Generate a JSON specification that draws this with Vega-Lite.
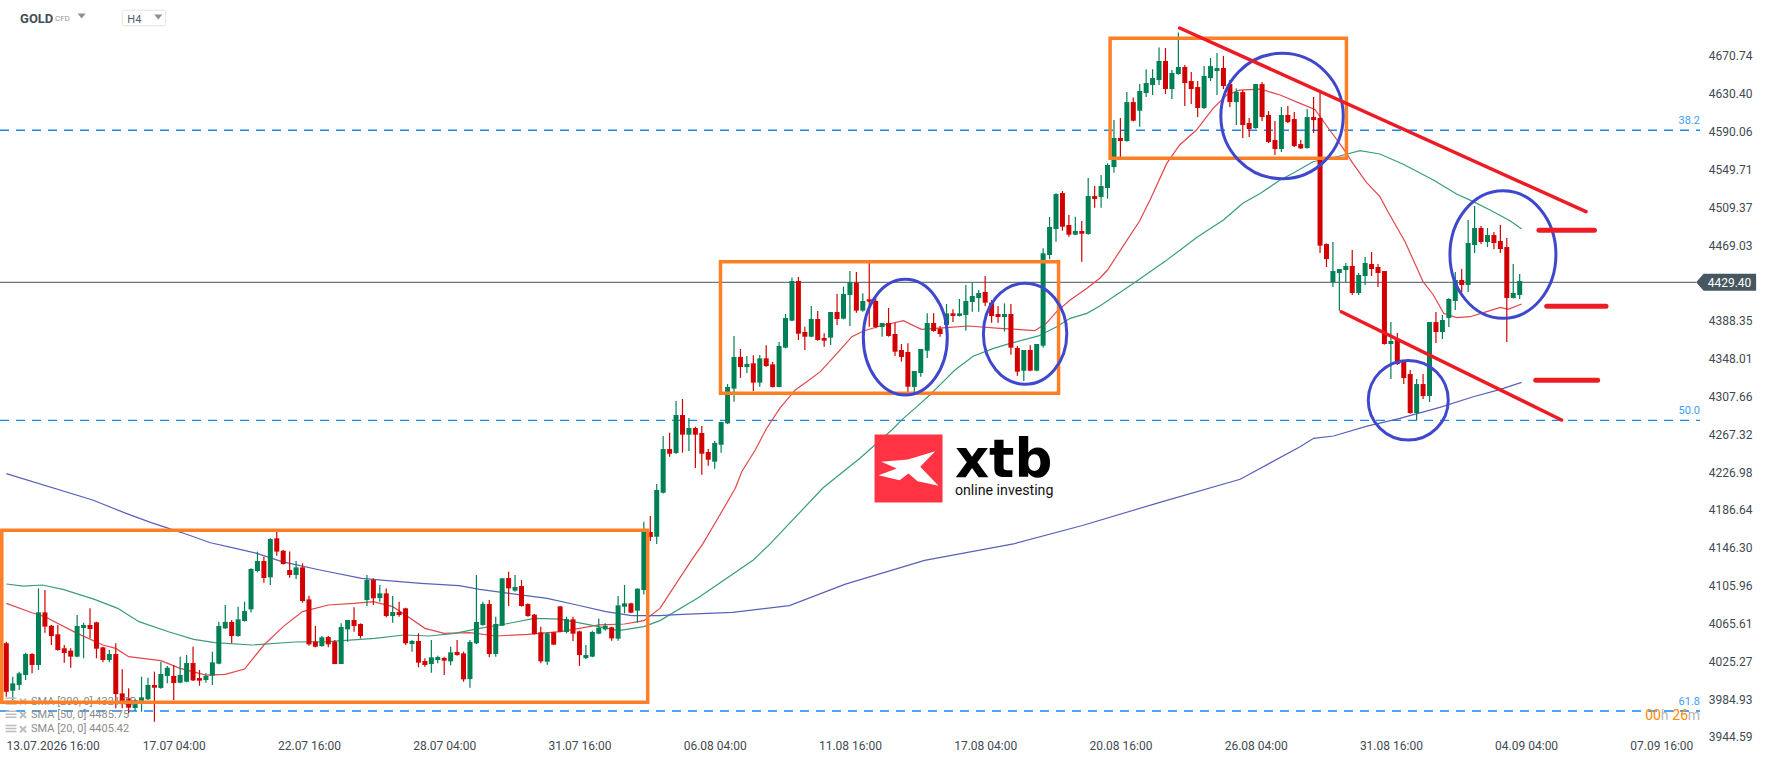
{
  "$schema": "https://vega.github.io/schema/vega-lite/v6.json",
  "description": "GOLD CFD H4 candlesticks with SMA 20/50/200, Fibonacci levels and hand drawn annotations.",
  "width": 1768,
  "height": 761,
  "padding": 0,
  "autosize": {"type": "none"},
  "background": "#ffffff",
  "config": {"view": {"stroke": null}, "text": {"font": "Roboto"}, "axis": {"grid": false, "domain": false, "ticks": false, "tickSize": 0}},
  "datasets": {
    "candles": [
      {"t":0,"o":4044.4,"h":4046.2,"l":3987.5,"c":3992.8},
      {"t":1,"o":3993.9,"h":4008.8,"l":3984.0,"c":4001.7},
      {"t":2,"o":4000.0,"h":4014.2,"l":3994.6,"c":4012.4},
      {"t":3,"o":4010.6,"h":4034.4,"l":4005.3,"c":4033.0},
      {"t":4,"o":4033.0,"h":4033.7,"l":4012.4,"c":4021.3},
      {"t":5,"o":4021.3,"h":4103.0,"l":4016.0,"c":4077.4},
      {"t":6,"o":4077.4,"h":4101.3,"l":4055.8,"c":4062.2},
      {"t":7,"o":4063.2,"h":4064.0,"l":4042.6,"c":4052.2},
      {"t":8,"o":4054.0,"h":4064.0,"l":4036.6,"c":4037.3},
      {"t":9,"o":4039.1,"h":4042.6,"l":4023.8,"c":4034.1},
      {"t":10,"o":4036.6,"h":4039.1,"l":4018.4,"c":4030.2},
      {"t":11,"o":4030.2,"h":4074.6,"l":4029.5,"c":4062.9},
      {"t":12,"o":4060.7,"h":4066.4,"l":4028.4,"c":4064.0},
      {"t":13,"o":4064.0,"h":4081.7,"l":4049.7,"c":4059.7},
      {"t":14,"o":4066.8,"h":4067.5,"l":4028.4,"c":4038.7},
      {"t":15,"o":4040.1,"h":4040.8,"l":4024.1,"c":4026.6},
      {"t":16,"o":4026.6,"h":4037.3,"l":4024.1,"c":4033.0},
      {"t":17,"o":4033.0,"h":4044.4,"l":3975.1,"c":3990.3},
      {"t":18,"o":3991.0,"h":4016.7,"l":3975.1,"c":3982.2},
      {"t":19,"o":3985.7,"h":3996.4,"l":3969.7,"c":3975.8},
      {"t":20,"o":3975.4,"h":3985.7,"l":3972.6,"c":3984.0},
      {"t":21,"o":3983.2,"h":4008.8,"l":3971.5,"c":3986.8},
      {"t":22,"o":3984.7,"h":4007.8,"l":3984.0,"c":4000.0},
      {"t":23,"o":4000.0,"h":4014.2,"l":3960.8,"c":3997.1},
      {"t":24,"o":3996.8,"h":4024.8,"l":3996.0,"c":4011.7},
      {"t":25,"o":4009.6,"h":4020.2,"l":4001.7,"c":4018.4},
      {"t":26,"o":4009.6,"h":4021.3,"l":3984.0,"c":4002.1},
      {"t":27,"o":4002.4,"h":4030.2,"l":4001.7,"c":4010.6},
      {"t":28,"o":4003.5,"h":4032.0,"l":4002.8,"c":4023.4},
      {"t":29,"o":4023.4,"h":4040.8,"l":4004.2,"c":4004.9},
      {"t":30,"o":4007.4,"h":4016.0,"l":3999.2,"c":4004.6},
      {"t":31,"o":4005.3,"h":4012.4,"l":4002.4,"c":4009.6},
      {"t":32,"o":4009.9,"h":4035.5,"l":4000.0,"c":4024.1},
      {"t":33,"o":4022.7,"h":4067.5,"l":4022.0,"c":4062.9},
      {"t":34,"o":4060.4,"h":4085.3,"l":4059.7,"c":4067.2},
      {"t":35,"o":4067.2,"h":4069.3,"l":4044.4,"c":4052.2},
      {"t":36,"o":4052.2,"h":4083.5,"l":4051.5,"c":4070.0},
      {"t":37,"o":4068.2,"h":4088.8,"l":4067.5,"c":4078.9},
      {"t":38,"o":4080.6,"h":4124.4,"l":4077.4,"c":4123.7},
      {"t":39,"o":4121.5,"h":4142.2,"l":4120.1,"c":4132.2},
      {"t":40,"o":4132.2,"h":4136.8,"l":4109.1,"c":4114.1},
      {"t":41,"o":4114.8,"h":4156.4,"l":4106.6,"c":4155.6},
      {"t":42,"o":4156.4,"h":4163.5,"l":4137.9,"c":4142.2},
      {"t":43,"o":4143.2,"h":4143.9,"l":4128.6,"c":4129.0},
      {"t":44,"o":4122.6,"h":4142.2,"l":4114.4,"c":4117.3},
      {"t":45,"o":4117.3,"h":4132.2,"l":4113.0,"c":4125.4},
      {"t":46,"o":4125.4,"h":4129.7,"l":4087.8,"c":4089.5},
      {"t":47,"o":4091.3,"h":4095.2,"l":4041.9,"c":4043.3},
      {"t":48,"o":4046.2,"h":4062.9,"l":4040.1,"c":4040.8},
      {"t":49,"o":4041.5,"h":4052.2,"l":4040.8,"c":4050.8},
      {"t":50,"o":4051.1,"h":4052.2,"l":4040.1,"c":4043.3},
      {"t":51,"o":4046.2,"h":4047.9,"l":4022.3,"c":4022.3},
      {"t":52,"o":4022.3,"h":4065.7,"l":4022.3,"c":4061.8},
      {"t":53,"o":4059.3,"h":4069.3,"l":4046.2,"c":4069.3},
      {"t":54,"o":4069.3,"h":4082.8,"l":4056.8,"c":4062.9},
      {"t":55,"o":4065.0,"h":4065.7,"l":4049.7,"c":4052.2},
      {"t":56,"o":4090.6,"h":4117.3,"l":4084.2,"c":4112.0},
      {"t":57,"o":4112.0,"h":4113.7,"l":4085.3,"c":4092.4},
      {"t":58,"o":4092.7,"h":4106.6,"l":4088.8,"c":4097.7},
      {"t":59,"o":4097.7,"h":4103.0,"l":4072.1,"c":4073.5},
      {"t":60,"o":4073.5,"h":4094.9,"l":4066.4,"c":4077.8},
      {"t":61,"o":4077.8,"h":4088.8,"l":4072.8,"c":4074.6},
      {"t":62,"o":4081.7,"h":4082.4,"l":4042.6,"c":4044.4},
      {"t":63,"o":4043.7,"h":4047.9,"l":4035.5,"c":4046.9},
      {"t":64,"o":4046.9,"h":4055.1,"l":4018.8,"c":4023.8},
      {"t":65,"o":4025.5,"h":4028.4,"l":4019.5,"c":4021.3},
      {"t":66,"o":4022.3,"h":4047.9,"l":4013.1,"c":4029.5},
      {"t":67,"o":4026.6,"h":4031.2,"l":4023.1,"c":4029.8},
      {"t":68,"o":4028.8,"h":4030.2,"l":4010.6,"c":4025.9},
      {"t":69,"o":4025.2,"h":4040.8,"l":4020.9,"c":4034.8},
      {"t":70,"o":4035.2,"h":4047.9,"l":4031.2,"c":4032.0},
      {"t":71,"o":4033.7,"h":4035.5,"l":4003.5,"c":4006.0},
      {"t":72,"o":4006.3,"h":4047.9,"l":3997.1,"c":4045.8},
      {"t":73,"o":4044.4,"h":4117.3,"l":4043.7,"c":4067.2},
      {"t":74,"o":4064.0,"h":4088.8,"l":4063.2,"c":4086.3},
      {"t":75,"o":4086.3,"h":4090.6,"l":4029.5,"c":4033.0},
      {"t":76,"o":4033.0,"h":4072.8,"l":4030.2,"c":4065.0},
      {"t":77,"o":4063.2,"h":4114.1,"l":4062.9,"c":4113.7},
      {"t":78,"o":4114.1,"h":4120.8,"l":4084.2,"c":4103.0},
      {"t":79,"o":4100.6,"h":4117.3,"l":4099.5,"c":4104.5},
      {"t":80,"o":4105.5,"h":4111.9,"l":4083.5,"c":4084.2},
      {"t":81,"o":4086.3,"h":4087.0,"l":4072.8,"c":4073.5},
      {"t":82,"o":4075.0,"h":4075.7,"l":4053.6,"c":4054.3},
      {"t":83,"o":4056.1,"h":4062.2,"l":4023.1,"c":4025.2},
      {"t":84,"o":4024.8,"h":4056.1,"l":4021.6,"c":4055.1},
      {"t":85,"o":4056.1,"h":4056.8,"l":4042.6,"c":4043.0},
      {"t":86,"o":4083.8,"h":4084.2,"l":4056.1,"c":4056.8},
      {"t":87,"o":4056.5,"h":4072.8,"l":4055.1,"c":4070.3},
      {"t":88,"o":4070.0,"h":4072.8,"l":4046.9,"c":4054.7},
      {"t":89,"o":4057.2,"h":4057.9,"l":4020.2,"c":4031.9},
      {"t":90,"o":4028.7,"h":4042.6,"l":4027.7,"c":4031.9},
      {"t":91,"o":4030.2,"h":4057.9,"l":4029.5,"c":4056.5},
      {"t":92,"o":4054.7,"h":4071.0,"l":4054.0,"c":4061.1},
      {"t":93,"o":4059.3,"h":4065.7,"l":4057.9,"c":4063.2},
      {"t":94,"o":4061.5,"h":4062.2,"l":4047.2,"c":4049.7},
      {"t":95,"o":4049.4,"h":4094.9,"l":4047.2,"c":4084.9},
      {"t":96,"o":4083.5,"h":4106.6,"l":4076.4,"c":4087.0},
      {"t":97,"o":4087.0,"h":4087.8,"l":4076.4,"c":4077.1},
      {"t":98,"o":4079.2,"h":4103.0,"l":4066.4,"c":4102.7},
      {"t":99,"o":4101.3,"h":4174.1,"l":4096.6,"c":4163.5},
      {"t":100,"o":4163.1,"h":4180.2,"l":4153.5,"c":4157.8},
      {"t":101,"o":4158.1,"h":4214.3,"l":4150.3,"c":4207.9},
      {"t":102,"o":4205.0,"h":4265.5,"l":4204.3,"c":4251.6},
      {"t":103,"o":4251.6,"h":4269.0,"l":4243.4,"c":4246.6},
      {"t":104,"o":4247.4,"h":4302.8,"l":4246.3,"c":4287.9},
      {"t":105,"o":4287.9,"h":4305.0,"l":4247.7,"c":4266.9},
      {"t":106,"o":4266.9,"h":4284.7,"l":4249.5,"c":4274.0},
      {"t":107,"o":4274.0,"h":4275.4,"l":4231.4,"c":4266.9},
      {"t":108,"o":4268.7,"h":4276.1,"l":4224.3,"c":4246.6},
      {"t":109,"o":4248.4,"h":4251.6,"l":4233.9,"c":4240.2},
      {"t":110,"o":4238.1,"h":4260.2,"l":4230.6,"c":4258.1},
      {"t":111,"o":4256.2,"h":4280.8,"l":4247.7,"c":4280.4},
      {"t":112,"o":4279.0,"h":4321.0,"l":4278.3,"c":4317.8},
      {"t":113,"o":4316.0,"h":4372.2,"l":4302.1,"c":4349.8},
      {"t":114,"o":4349.8,"h":4358.3,"l":4327.4,"c":4339.1},
      {"t":115,"o":4339.1,"h":4350.8,"l":4332.7,"c":4342.3},
      {"t":116,"o":4343.0,"h":4351.5,"l":4313.5,"c":4322.4},
      {"t":117,"o":4322.4,"h":4351.9,"l":4318.1,"c":4348.3},
      {"t":118,"o":4348.3,"h":4362.2,"l":4339.4,"c":4340.1},
      {"t":119,"o":4341.9,"h":4344.4,"l":4317.1,"c":4317.8},
      {"t":120,"o":4317.8,"h":4365.8,"l":4317.4,"c":4361.5},
      {"t":121,"o":4359.7,"h":4395.6,"l":4359.0,"c":4391.3},
      {"t":122,"o":4388.5,"h":4434.4,"l":4387.8,"c":4430.8},
      {"t":123,"o":4430.8,"h":4435.1,"l":4367.9,"c":4374.6},
      {"t":124,"o":4376.4,"h":4382.1,"l":4357.2,"c":4371.4},
      {"t":125,"o":4371.4,"h":4404.1,"l":4370.7,"c":4390.3},
      {"t":126,"o":4390.3,"h":4398.8,"l":4367.2,"c":4367.9},
      {"t":127,"o":4370.0,"h":4375.0,"l":4360.8,"c":4367.2},
      {"t":128,"o":4370.4,"h":4397.7,"l":4362.6,"c":4397.7},
      {"t":129,"o":4397.7,"h":4417.0,"l":4383.9,"c":4390.3},
      {"t":130,"o":4390.6,"h":4424.8,"l":4389.9,"c":4417.0},
      {"t":131,"o":4415.9,"h":4441.5,"l":4382.8,"c":4429.4},
      {"t":132,"o":4429.0,"h":4440.4,"l":4397.0,"c":4399.2},
      {"t":133,"o":4399.2,"h":4417.7,"l":4398.1,"c":4409.5},
      {"t":134,"o":4411.3,"h":4450.7,"l":4382.1,"c":4408.8},
      {"t":135,"o":4409.5,"h":4412.3,"l":4380.3,"c":4381.7},
      {"t":136,"o":4381.7,"h":4386.0,"l":4371.4,"c":4386.0},
      {"t":137,"o":4386.0,"h":4402.0,"l":4371.4,"c":4372.2},
      {"t":138,"o":4374.3,"h":4386.4,"l":4350.8,"c":4355.4},
      {"t":139,"o":4357.2,"h":4363.6,"l":4344.8,"c":4349.8},
      {"t":140,"o":4355.1,"h":4364.3,"l":4308.2,"c":4318.1},
      {"t":141,"o":4317.8,"h":4334.8,"l":4311.0,"c":4334.8},
      {"t":142,"o":4332.7,"h":4358.3,"l":4328.8,"c":4358.3},
      {"t":143,"o":4356.5,"h":4396.3,"l":4348.7,"c":4386.0},
      {"t":144,"o":4386.0,"h":4396.3,"l":4376.8,"c":4377.5},
      {"t":145,"o":4380.0,"h":4382.8,"l":4371.4,"c":4374.3},
      {"t":146,"o":4383.9,"h":4406.3,"l":4383.2,"c":4396.3},
      {"t":147,"o":4396.3,"h":4400.6,"l":4387.1,"c":4393.5},
      {"t":148,"o":4393.5,"h":4411.6,"l":4392.8,"c":4396.3},
      {"t":149,"o":4394.5,"h":4426.5,"l":4377.8,"c":4409.5},
      {"t":150,"o":4408.4,"h":4429.4,"l":4398.1,"c":4414.8},
      {"t":151,"o":4412.7,"h":4421.2,"l":4398.1,"c":4418.0},
      {"t":152,"o":4419.1,"h":4436.1,"l":4404.1,"c":4407.7},
      {"t":153,"o":4407.7,"h":4410.5,"l":4386.4,"c":4393.5},
      {"t":154,"o":4395.6,"h":4404.1,"l":4386.4,"c":4392.4},
      {"t":155,"o":4392.4,"h":4407.0,"l":4376.8,"c":4395.6},
      {"t":156,"o":4395.6,"h":4406.3,"l":4352.2,"c":4359.7},
      {"t":157,"o":4359.3,"h":4361.5,"l":4329.8,"c":4334.1},
      {"t":158,"o":4335.2,"h":4357.2,"l":4324.2,"c":4357.2},
      {"t":159,"o":4357.2,"h":4362.2,"l":4334.5,"c":4335.2},
      {"t":160,"o":4335.2,"h":4363.6,"l":4334.5,"c":4363.6},
      {"t":161,"o":4361.8,"h":4465.6,"l":4359.7,"c":4460.3},
      {"t":162,"o":4458.5,"h":4499.0,"l":4454.0,"c":4488.4},
      {"t":163,"o":4486.2,"h":4524.3,"l":4472.7,"c":4523.5},
      {"t":164,"o":4524.6,"h":4526.8,"l":4484.4,"c":4488.7},
      {"t":165,"o":4490.5,"h":4501.2,"l":4478.0,"c":4480.2},
      {"t":166,"o":4480.2,"h":4499.4,"l":4479.5,"c":4484.1},
      {"t":167,"o":4484.1,"h":4494.8,"l":4451.4,"c":4481.2},
      {"t":168,"o":4480.9,"h":4540.6,"l":4480.2,"c":4521.4},
      {"t":169,"o":4521.4,"h":4532.1,"l":4509.0,"c":4518.2},
      {"t":170,"o":4520.4,"h":4543.8,"l":4509.0,"c":4532.1},
      {"t":171,"o":4530.0,"h":4556.3,"l":4518.6,"c":4554.5},
      {"t":172,"o":4552.3,"h":4602.5,"l":4546.3,"c":4583.3},
      {"t":173,"o":4583.3,"h":4604.6,"l":4562.7,"c":4580.1},
      {"t":174,"o":4580.1,"h":4632.3,"l":4579.3,"c":4621.6},
      {"t":175,"o":4621.6,"h":4626.6,"l":4601.0,"c":4601.7},
      {"t":176,"o":4612.4,"h":4640.8,"l":4595.3,"c":4633.4},
      {"t":177,"o":4631.2,"h":4656.5,"l":4627.0,"c":4641.9},
      {"t":178,"o":4639.8,"h":4656.5,"l":4629.1,"c":4647.2},
      {"t":179,"o":4645.1,"h":4679.9,"l":4639.8,"c":4665.4},
      {"t":180,"o":4665.4,"h":4679.2,"l":4630.2,"c":4635.5},
      {"t":181,"o":4635.5,"h":4655.8,"l":4624.8,"c":4652.6},
      {"t":182,"o":4651.5,"h":4695.9,"l":4650.8,"c":4659.0},
      {"t":183,"o":4659.0,"h":4661.1,"l":4617.4,"c":4641.9},
      {"t":184,"o":4644.0,"h":4653.6,"l":4619.5,"c":4635.5},
      {"t":185,"o":4637.6,"h":4644.0,"l":4605.6,"c":4615.3},
      {"t":186,"o":4615.3,"h":4660.0,"l":4614.2,"c":4649.4},
      {"t":187,"o":4647.2,"h":4668.6,"l":4644.0,"c":4660.0},
      {"t":188,"o":4654.7,"h":4673.9,"l":4629.1,"c":4657.9},
      {"t":189,"o":4657.9,"h":4670.7,"l":4635.5,"c":4638.7},
      {"t":190,"o":4640.8,"h":4645.1,"l":4616.3,"c":4621.6},
      {"t":191,"o":4621.6,"h":4636.2,"l":4597.1,"c":4632.3},
      {"t":192,"o":4632.3,"h":4634.4,"l":4583.3,"c":4597.1},
      {"t":193,"o":4599.2,"h":4604.6,"l":4584.3,"c":4592.8},
      {"t":194,"o":4593.9,"h":4640.8,"l":4593.2,"c":4640.8},
      {"t":195,"o":4640.8,"h":4643.0,"l":4601.4,"c":4605.6},
      {"t":196,"o":4607.8,"h":4612.0,"l":4577.9,"c":4579.0},
      {"t":197,"o":4581.1,"h":4601.4,"l":4565.1,"c":4571.5},
      {"t":198,"o":4571.5,"h":4616.3,"l":4568.3,"c":4607.8},
      {"t":199,"o":4607.8,"h":4617.4,"l":4599.2,"c":4600.3},
      {"t":200,"o":4603.5,"h":4611.0,"l":4573.6,"c":4574.7},
      {"t":201,"o":4576.8,"h":4581.1,"l":4571.5,"c":4572.2},
      {"t":202,"o":4572.6,"h":4614.2,"l":4571.9,"c":4605.6},
      {"t":203,"o":4605.6,"h":4627.0,"l":4588.6,"c":4602.4},
      {"t":204,"o":4604.6,"h":4631.2,"l":4460.6,"c":4468.5},
      {"t":205,"o":4470.2,"h":4470.9,"l":4445.7,"c":4454.2},
      {"t":206,"o":4429.7,"h":4472.4,"l":4424.4,"c":4441.4},
      {"t":207,"o":4439.3,"h":4443.6,"l":4399.1,"c":4443.6},
      {"t":208,"o":4442.5,"h":4450.0,"l":4429.7,"c":4446.8},
      {"t":209,"o":4446.8,"h":4463.8,"l":4415.9,"c":4418.0},
      {"t":210,"o":4418.0,"h":4439.3,"l":4415.9,"c":4437.2},
      {"t":211,"o":4436.1,"h":4456.4,"l":4426.5,"c":4450.0},
      {"t":212,"o":4448.9,"h":4461.7,"l":4436.1,"c":4443.6},
      {"t":213,"o":4445.7,"h":4448.9,"l":4424.4,"c":4439.3},
      {"t":214,"o":4441.4,"h":4441.4,"l":4362.9,"c":4363.6},
      {"t":215,"o":4363.6,"h":4387.0,"l":4326.3,"c":4366.8},
      {"t":216,"o":4368.9,"h":4375.3,"l":4341.2,"c":4342.3},
      {"t":217,"o":4344.8,"h":4346.5,"l":4320.9,"c":4327.3},
      {"t":218,"o":4331.6,"h":4335.9,"l":4289.3,"c":4290.0},
      {"t":219,"o":4290.0,"h":4326.3,"l":4282.5,"c":4320.9},
      {"t":220,"o":4320.9,"h":4331.6,"l":4304.9,"c":4308.1},
      {"t":221,"o":4308.1,"h":4387.0,"l":4301.7,"c":4387.0},
      {"t":222,"o":4387.0,"h":4397.7,"l":4364.7,"c":4376.4},
      {"t":223,"o":4376.4,"h":4394.5,"l":4368.9,"c":4389.2},
      {"t":224,"o":4391.3,"h":4412.3,"l":4381.7,"c":4411.6},
      {"t":225,"o":4409.5,"h":4440.4,"l":4399.9,"c":4431.9},
      {"t":226,"o":4431.9,"h":4443.6,"l":4419.0,"c":4426.5},
      {"t":227,"o":4426.5,"h":4495.8,"l":4419.0,"c":4471.3},
      {"t":228,"o":4469.2,"h":4510.8,"l":4460.6,"c":4487.3},
      {"t":229,"o":4487.3,"h":4489.4,"l":4470.2,"c":4472.4},
      {"t":230,"o":4472.4,"h":4487.3,"l":4467.0,"c":4479.8},
      {"t":231,"o":4479.8,"h":4483.0,"l":4464.9,"c":4471.3},
      {"t":232,"o":4473.4,"h":4490.5,"l":4460.6,"c":4464.9},
      {"t":233,"o":4467.0,"h":4476.6,"l":4365.7,"c":4412.7},
      {"t":234,"o":4412.7,"h":4448.9,"l":4412.0,"c":4418.0},
      {"t":235,"o":4415.9,"h":4438.2,"l":4411.6,"c":4430.8}
    ],
    "sma": [
      {"s":"SMA20","t":0,"price":4087},{"s":"SMA20","t":4,"price":4077},{"s":"SMA20","t":6,"price":4072.8},{"s":"SMA20","t":11,"price":4055},
      {"s":"SMA20","t":15,"price":4042.6},{"s":"SMA20","t":17,"price":4039},{"s":"SMA20","t":19,"price":4030.2},{"s":"SMA20","t":24,"price":4025.9},
      {"s":"SMA20","t":27,"price":4017.7},{"s":"SMA20","t":31,"price":4010.6},{"s":"SMA20","t":34,"price":4011.3},{"s":"SMA20","t":37,"price":4017},
      {"s":"SMA20","t":40,"price":4042.6},{"s":"SMA20","t":43,"price":4062.2},{"s":"SMA20","t":46,"price":4078.2},{"s":"SMA20","t":50,"price":4085.3},
      {"s":"SMA20","t":54,"price":4087},{"s":"SMA20","t":57,"price":4088.8},{"s":"SMA20","t":60,"price":4083.5},{"s":"SMA20","t":62,"price":4074.6},
      {"s":"SMA20","t":65,"price":4060.4},{"s":"SMA20","t":68,"price":4055},{"s":"SMA20","t":72,"price":4055.8},{"s":"SMA20","t":76,"price":4052.2},
      {"s":"SMA20","t":81,"price":4054},{"s":"SMA20","t":86,"price":4056.8},{"s":"SMA20","t":89,"price":4060.4},{"s":"SMA20","t":92,"price":4064},
      {"s":"SMA20","t":96,"price":4065},{"s":"SMA20","t":99,"price":4068.6},{"s":"SMA20","t":101.5,"price":4081.7},
      {"s":"SMA20","t":106.4,"price":4133.2},{"s":"SMA20","t":108.2,"price":4151},{"s":"SMA20","t":110.8,"price":4181.2},{"s":"SMA20","t":113.2,"price":4209.7},
      {"s":"SMA20","t":114.2,"price":4227.4},{"s":"SMA20","t":116.3,"price":4250.6},{"s":"SMA20","t":118,"price":4273},{"s":"SMA20","t":120.1,"price":4295},
      {"s":"SMA20","t":122.5,"price":4314.6},{"s":"SMA20","t":124.3,"price":4323.4},{"s":"SMA20","t":126.4,"price":4334.1},{"s":"SMA20","t":129,"price":4353.7},
      {"s":"SMA20","t":131.3,"price":4371.4},{"s":"SMA20","t":133.1,"price":4377.5},{"s":"SMA20","t":135.7,"price":4382.8},{"s":"SMA20","t":139.3,"price":4388.5},
      {"s":"SMA20","t":142.1,"price":4379.3},{"s":"SMA20","t":146.5,"price":4381.4},{"s":"SMA20","t":149.4,"price":4382.8},{"s":"SMA20","t":154.3,"price":4380.3},
      {"s":"SMA20","t":156.9,"price":4379.3},{"s":"SMA20","t":159.7,"price":4377.8},{"s":"SMA20","t":161.5,"price":4385.7},{"s":"SMA20","t":163.1,"price":4398.1},
      {"s":"SMA20","t":165.2,"price":4410.5},{"s":"SMA20","t":167.8,"price":4423},{"s":"SMA20","t":169.8,"price":4433.7},{"s":"SMA20","t":171,"price":4442.5},
      {"s":"SMA20","t":173.7,"price":4470.9},{"s":"SMA20","t":176,"price":4495},{"s":"SMA20","t":177.6,"price":4517.1},{"s":"SMA20","t":180.2,"price":4556.2},
      {"s":"SMA20","t":182.2,"price":4575.8},{"s":"SMA20","t":184.8,"price":4591.8},{"s":"SMA20","t":187.4,"price":4614.9},{"s":"SMA20","t":189.5,"price":4629.1},
      {"s":"SMA20","t":191.5,"price":4634.4},{"s":"SMA20","t":194.7,"price":4635.5},{"s":"SMA20","t":197.8,"price":4629.1},{"s":"SMA20","t":200.9,"price":4620.2},
      {"s":"SMA20","t":203.2,"price":4613.8},{"s":"SMA20","t":205.5,"price":4591.8},{"s":"SMA20","t":207.6,"price":4572.2},{"s":"SMA20","t":209.1,"price":4556.2},
      {"s":"SMA20","t":211.2,"price":4536},{"s":"SMA20","t":213.3,"price":4520.7},{"s":"SMA20","t":214.4,"price":4506.5},{"s":"SMA20","t":217.2,"price":4472.7},
      {"s":"SMA20","t":220,"price":4430.1},{"s":"SMA20","t":221.6,"price":4415.9},{"s":"SMA20","t":223.2,"price":4396.3},{"s":"SMA20","t":225.2,"price":4391.7},
      {"s":"SMA20","t":227.3,"price":4392.7},{"s":"SMA20","t":229.9,"price":4398.1},{"s":"SMA20","t":232,"price":4402.7},{"s":"SMA20","t":233.2,"price":4400.6},
      {"s":"SMA20","t":235.3,"price":4406.3},

      {"s":"SMA50","t":0,"price":4107.7},{"s":"SMA50","t":2.6,"price":4105.5},{"s":"SMA50","t":5.6,"price":4106.6},{"s":"SMA50","t":8.8,"price":4102},
      {"s":"SMA50","t":13.7,"price":4091.3},{"s":"SMA50","t":17.3,"price":4081.7},{"s":"SMA50","t":20.6,"price":4067.5},{"s":"SMA50","t":25.2,"price":4056.8},
      {"s":"SMA50","t":29.1,"price":4048.7},{"s":"SMA50","t":32.4,"price":4045.1},{"s":"SMA50","t":38.2,"price":4042.6},{"s":"SMA50","t":44.8,"price":4045.8},
      {"s":"SMA50","t":50,"price":4046.2},{"s":"SMA50","t":53.3,"price":4047.9},{"s":"SMA50","t":57.2,"price":4049.7},{"s":"SMA50","t":61.8,"price":4053.3},
      {"s":"SMA50","t":65.7,"price":4052.2},{"s":"SMA50","t":69.6,"price":4055},{"s":"SMA50","t":73.5,"price":4060.4},{"s":"SMA50","t":77.5,"price":4065},
      {"s":"SMA50","t":82,"price":4071.1},{"s":"SMA50","t":86,"price":4070.3},{"s":"SMA50","t":90.6,"price":4064},{"s":"SMA50","t":95.1,"price":4057.9},
      {"s":"SMA50","t":99,"price":4062.2},{"s":"SMA50","t":101.5,"price":4068.6},{"s":"SMA50","t":107.5,"price":4093.2},{"s":"SMA50","t":116,"price":4133.3},
      {"s":"SMA50","t":118.6,"price":4150.4},{"s":"SMA50","t":126.8,"price":4210},{"s":"SMA50","t":132.6,"price":4242},{"s":"SMA50","t":137.5,"price":4271.9},
      {"s":"SMA50","t":139.3,"price":4284.3},{"s":"SMA50","t":141.4,"price":4296.8},{"s":"SMA50","t":143.4,"price":4309.2},{"s":"SMA50","t":146,"price":4327},
      {"s":"SMA50","t":147.3,"price":4335.9},{"s":"SMA50","t":150.2,"price":4350.8},{"s":"SMA50","t":153.3,"price":4359},{"s":"SMA50","t":155.9,"price":4364.3},
      {"s":"SMA50","t":160.3,"price":4372.2},{"s":"SMA50","t":163.1,"price":4382.1},{"s":"SMA50","t":165.2,"price":4391},{"s":"SMA50","t":167.8,"price":4396.3},
      {"s":"SMA50","t":169.8,"price":4404.1},{"s":"SMA50","t":175,"price":4428},{"s":"SMA50","t":180,"price":4452},{"s":"SMA50","t":185,"price":4478},
      {"s":"SMA50","t":189,"price":4495.8},{"s":"SMA50","t":192,"price":4513.6},{"s":"SMA50","t":194.7,"price":4524.2},{"s":"SMA50","t":197.8,"price":4538.5},
      {"s":"SMA50","t":199.8,"price":4545.6},{"s":"SMA50","t":202.9,"price":4558},{"s":"SMA50","t":206.6,"price":4563.3},{"s":"SMA50","t":210.2,"price":4569.8},
      {"s":"SMA50","t":213.3,"price":4566.2},{"s":"SMA50","t":217,"price":4555},{"s":"SMA50","t":221.6,"price":4538.5},{"s":"SMA50","t":225.2,"price":4523.6},
      {"s":"SMA50","t":227.8,"price":4515.4},{"s":"SMA50","t":230.4,"price":4506.5},{"s":"SMA50","t":233.5,"price":4495.1},{"s":"SMA50","t":235.3,"price":4486.2},

      {"s":"SMA200","t":0,"price":4225.4},{"s":"SMA200","t":13.4,"price":4197.25},{"s":"SMA200","t":18.6,"price":4183},{"s":"SMA200","t":22.5,"price":4173.1},
      {"s":"SMA200","t":27.1,"price":4162.8},{"s":"SMA200","t":31.7,"price":4151.7},{"s":"SMA200","t":35.6,"price":4145.7},{"s":"SMA200","t":38.9,"price":4140.4},
      {"s":"SMA200","t":42.8,"price":4131.5},{"s":"SMA200","t":48.7,"price":4122.6},{"s":"SMA200","t":55.2,"price":4113.7},{"s":"SMA200","t":59.2,"price":4111.2},
      {"s":"SMA200","t":64.4,"price":4108.4},{"s":"SMA200","t":70.3,"price":4105.9},{"s":"SMA200","t":73.5,"price":4102},{"s":"SMA200","t":78.1,"price":4097.7},
      {"s":"SMA200","t":84,"price":4092.4},{"s":"SMA200","t":88.6,"price":4085.3},{"s":"SMA200","t":93.1,"price":4078.2},{"s":"SMA200","t":97.1,"price":4073.9},
      {"s":"SMA200","t":101.5,"price":4073.9},{"s":"SMA200","t":104.1,"price":4075.1},{"s":"SMA200","t":112.8,"price":4077.5},{"s":"SMA200","t":121.6,"price":4084.7},
      {"s":"SMA200","t":130.3,"price":4107.5},{"s":"SMA200","t":142.6,"price":4132.8},{"s":"SMA200","t":156.6,"price":4150.8},{"s":"SMA200","t":167.1,"price":4170.1},
      {"s":"SMA200","t":179.4,"price":4195.3},{"s":"SMA200","t":191.6,"price":4219.4},{"s":"SMA200","t":200.9,"price":4254.1},{"s":"SMA200","t":203,"price":4263},
      {"s":"SMA200","t":206.1,"price":4265.5},{"s":"SMA200","t":211.3,"price":4276.1},{"s":"SMA200","t":216.4,"price":4284.3},{"s":"SMA200","t":222.6,"price":4296.1},
      {"s":"SMA200","t":227.8,"price":4307.4},{"s":"SMA200","t":232,"price":4315.3},{"s":"SMA200","t":235.3,"price":4322.7}
    ],
    "fibo": [
      {"t":-0.98,"t2":263,"price":4591.5,"label":"38.2"},
      {"t":-0.98,"t2":263,"price":4282.2,"label":"50.0"},
      {"t":-0.98,"t2":263,"price":3972.2,"label":"61.8"}
    ],
    "boxes": [
      {"t":-0.7,"t2":99.6,"price":4164.9,"price2":3981.5},
      {"t":110.9,"t2":163.4,"price":4451.4,"price2":4311},
      {"t":171.4,"t2":208.1,"price":4689.6,"price2":4561.6}
    ],
    "trend": [
      {"id":"upper","t":182.2,"price":4700.6},{"id":"upper","t":245.3,"price":4504.7},
      {"id":"lower","t":207.3,"price":4398},{"id":"lower","t":241.5,"price":4282.6}
    ],
    "targets": [
      {"t":238,"t2":246.6,"price":4484.9},
      {"t":239.2,"t2":248.4,"price":4403.8},
      {"t":237.5,"t2":247.1,"price":4324.9}
    ],
    "smaLegend": [
      {"t":3.84,"price":3982.2,"label":"SMA [200, 0] 4321.75"},
      {"t":3.84,"price":3967.9,"label":"SMA [50, 0] 4485.75"},
      {"t":3.84,"price":3952.7,"label":"SMA [20, 0] 4405.42"}
    ]
  },
  "encoding": {
    "x": {
      "field": "t",
      "type": "quantitative",
      "title": null,
      "scale": {"domain": [-0.978, 273.56], "nice": false, "zero": false, "padding": 0},
      "axis": {
        "values": [7.2, 26, 47, 68, 89, 110, 131, 152, 173, 194, 215, 236, 257],
        "labelExpr": "({'7.2':'13.07.2026 16:00','26':'17.07 04:00','47':'22.07 16:00','68':'28.07 04:00','89':'31.07 16:00','110':'06.08 04:00','131':'11.08 16:00','152':'17.08 04:00','173':'20.08 16:00','194':'26.08 04:00','215':'31.08 16:00','236':'04.09 04:00','257':'07.09 16:00'})[datum.value]",
        "labelPadding": -16, "labelBaseline": "middle", "labelFont": "Roboto", "labelFontSize": 12,
        "labelColor": "#3f4a52", "labelOverlap": false, "labelFlush": false, "labelBound": false
      }
    },
    "y": {
      "field": "price",
      "type": "quantitative",
      "title": null,
      "scale": {"domain": [3918.92, 4730.45], "nice": false, "zero": false},
      "axis": {
        "orient": "right",
        "values": [4670.74, 4630.40, 4590.06, 4549.71, 4509.37, 4469.03, 4388.35, 4348.01, 4307.66, 4267.32, 4226.98, 4186.64, 4146.30, 4105.96, 4065.61, 4025.27, 3984.93, 3944.59],
        "format": ".2f",
        "labelPadding": -16, "labelAlign": "right", "labelFont": "Roboto", "labelFontSize": 12,
        "labelColor": "#3f4a52", "labelOverlap": false, "labelFlush": false, "labelBound": false,
        "encoding": {"labels": {"update": {"dy": {"signal": "datum.value < 3950 ? -5 : 1"}}}}
      }
    }
  },
  "layer": [
    {
      "data": {"name": "fibo"},
      "mark": {"type": "rule", "color": "#1488f0", "strokeWidth": 1.4, "strokeDash": [9, 7]},
      "encoding": {"x2": {"field": "t2"}}
    },
    {
      "data": {"values": [{"t": -0.98, "t2": 262.4, "price": 4429.4}]},
      "mark": {"type": "rule", "color": "#465761", "strokeWidth": 1},
      "encoding": {"x2": {"field": "t2"}}
    },
    {
      "data": {"name": "fibo"},
      "mark": {"type": "text", "color": "#3da0f5", "fontSize": 11, "align": "right", "dy": -9},
      "encoding": {"x": {"field": "t2", "type": "quantitative", "title": null}, "text": {"field": "label"}}
    },
    {
      "data": {"name": "sma"},
      "mark": {"type": "line", "strokeWidth": 1.2, "interpolate": "linear"},
      "encoding": {
        "color": {
          "field": "s",
          "type": "nominal",
          "legend": null,
          "scale": {"domain": ["SMA20", "SMA50", "SMA200"], "range": ["#e2474b", "#3a9d78", "#5a60b8"]}
        }
      }
    },
    {
      "data": {"values": [{"t": 140.1, "price": 4230.9}]},
      "mark": {"type": "point", "shape": "M-34,-34H34V34H-34Z", "size": 4, "filled": true, "color": "#ff3344", "opacity": 1}
    },
    {
      "data": {"values": [{"t": 140.1, "price": 4230.9}]},
      "mark": {"type": "point", "shape": "M-27.3,-6.7L-0.7,-9L26.7,-17.3L11.7,-1.7L30,17.3L9,12.7L0,5L-9,11.7L-30,6.7L-11.7,0Z", "size": 4, "filled": true, "color": "#ffffff", "opacity": 1}
    },
    {
      "data": {"values": [{"t": 147.3, "price": 4221.8, "label": "xtb"}]},
      "mark": {"type": "text", "font": "DejaVu Sans", "fontWeight": "bold", "fontSize": 53, "align": "left", "baseline": "alphabetic", "color": "#000000"},
      "encoding": {"text": {"field": "label"}}
    },
    {
      "data": {"values": [{"t": 147.3, "price": 4206.8, "label": "online investing"}]},
      "mark": {"type": "text", "font": "Roboto", "fontSize": 14.2, "align": "left", "baseline": "middle", "color": "#111111"},
      "encoding": {"text": {"field": "label"}}
    },
    {
      "data": {"name": "candles"},
      "mark": {"type": "rule", "strokeWidth": 1.2},
      "encoding": {
        "y": {"field": "h", "type": "quantitative", "title": null},
        "y2": {"field": "l"},
        "color": {"condition": {"test": "datum.c >= datum.o", "value": "#008055"}, "value": "#d20000"}
      }
    },
    {
      "data": {"name": "candles"},
      "mark": {"type": "bar", "size": 5},
      "encoding": {
        "y": {"field": "o", "type": "quantitative", "title": null},
        "y2": {"field": "c"},
        "color": {"condition": {"test": "datum.c >= datum.o", "value": "#008055"}, "value": "#d20000"}
      }
    },
    {
      "data": {"name": "smaLegend"},
      "mark": {"type": "text", "font": "Roboto", "fontSize": 11, "align": "left", "baseline": "middle", "color": "#8c8c8c"},
      "encoding": {"text": {"field": "label"}}
    },
    {
      "data": {"name": "smaLegend"},
      "mark": {"type": "point", "shape": "M-5.5,-4.5H5.5V-3H-5.5ZM-5.5,-1.5H5.5V0H-5.5ZM-5.5,1.5H5.5V3H-5.5Z", "size": 4, "filled": true, "color": "#bdbdbd", "opacity": 1, "xOffset": -20}
    },
    {
      "data": {"name": "smaLegend"},
      "mark": {"type": "point", "shape": "M-3,-3L3,3M3,-3L-3,3", "size": 4, "filled": false, "stroke": "#bdbdbd", "strokeWidth": 2, "opacity": 1, "xOffset": -8}
    },
    {
      "data": {"name": "boxes"},
      "mark": {"type": "rect", "fill": null, "stroke": "#ff7f27", "strokeWidth": 3.5},
      "encoding": {
        "x2": {"field": "t2"},
        "y2": {"field": "price2"}
      }
    },
    {
      "data": {"values": [{"t": 139.6, "price": 4370.9}]},
      "mark": {"type": "point", "shape": "M-42,0A42,57.8 0 1 1 42,0A42,57.8 0 1 1 -42,0Z", "size": 4, "filled": false, "stroke": "#3f48cc", "strokeWidth": 3, "opacity": 1}
    },
    {
      "data": {"values": [{"t": 158.2, "price": 4374.5}]},
      "mark": {"type": "point", "shape": "M-41.7,0A41.7,50.5 0 1 1 41.7,0A41.7,50.5 0 1 1 -41.7,0Z", "size": 4, "filled": false, "stroke": "#3f48cc", "strokeWidth": 3, "opacity": 1}
    },
    {
      "data": {"values": [{"t": 198.1, "price": 4606.7}]},
      "mark": {"type": "point", "shape": "M-61.2,0A61.2,62.7 0 1 1 61.2,0A61.2,62.7 0 1 1 -61.2,0Z", "size": 4, "filled": false, "stroke": "#3f48cc", "strokeWidth": 3, "opacity": 1}
    },
    {
      "data": {"values": [{"t": 232.4, "price": 4459}]},
      "mark": {"type": "point", "shape": "M-53,0A53,63.8 0 1 1 53,0A53,63.8 0 1 1 -53,0Z", "size": 4, "filled": false, "stroke": "#3f48cc", "strokeWidth": 3, "opacity": 1}
    },
    {
      "data": {"values": [{"t": 217.7, "price": 4303.7}]},
      "mark": {"type": "point", "shape": "M-40,0A40,39.8 0 1 1 40,0A40,39.8 0 1 1 -40,0Z", "size": 4, "filled": false, "stroke": "#3f48cc", "strokeWidth": 3, "opacity": 1}
    },
    {
      "data": {"name": "trend"},
      "mark": {"type": "line", "color": "#ed1c24", "strokeWidth": 3.5, "strokeCap": "round"},
      "encoding": {"detail": {"field": "id"}}
    },
    {
      "data": {"name": "targets"},
      "mark": {"type": "rule", "color": "#ed1c24", "strokeWidth": 5, "strokeCap": "round"},
      "encoding": {"x2": {"field": "t2"}}
    },
    {
      "data": {"values": [{"t": 262.4, "price": 4429.4}]},
      "mark": {"type": "point", "shape": "M0,0L7.5,-8.5H60V8.5H7.5Z", "size": 4, "filled": true, "color": "#465761", "opacity": 1}
    },
    {
      "data": {"values": [{"t": 264.2, "price": 4429.4, "label": "4429.40"}]},
      "mark": {"type": "text", "fontSize": 12, "align": "left", "baseline": "middle", "dy": 1, "color": "#ffffff"},
      "encoding": {"text": {"field": "label"}}
    },
    {
      "data": {"values": [{"t": 254.5, "price": 3966.9, "label": "00"}, {"t": 258.7, "price": 3966.9, "label": "26"}]},
      "mark": {"type": "text", "fontSize": 14, "align": "left", "baseline": "middle", "color": "#ff8a00"},
      "encoding": {"text": {"field": "label"}}
    },
    {
      "data": {"values": [{"t": 256.9, "price": 3966.9, "label": "h"}, {"t": 261.1, "price": 3966.9, "label": "m"}]},
      "mark": {"type": "text", "fontSize": 14, "align": "left", "baseline": "middle", "color": "#b5b5b5"},
      "encoding": {"text": {"field": "label"}}
    },
    {
      "data": {"values": [{"t": 2.13, "price": 4710.7, "label": "GOLD"}]},
      "mark": {"type": "text", "fontSize": 13, "fontWeight": "bold", "align": "left", "baseline": "middle", "color": "#434e56"},
      "encoding": {"text": {"field": "label"}}
    },
    {
      "data": {"values": [{"t": 7.56, "price": 4710.2, "label": "CFD"}]},
      "mark": {"type": "text", "fontSize": 8, "align": "left", "baseline": "middle", "color": "#9a9a9a"},
      "encoding": {"text": {"field": "label"}}
    },
    {
      "data": {"values": [{"t": 18, "t2": 24.75, "price": 4719.5, "price2": 4703}]},
      "mark": {"type": "rect", "fill": "#ffffff", "stroke": "#e3e3e3", "strokeWidth": 1, "cornerRadius": 2},
      "encoding": {"x2": {"field": "t2"}, "y2": {"field": "price2"}}
    },
    {
      "data": {"values": [{"t": 18.8, "price": 4709.6, "label": "H4"}]},
      "mark": {"type": "text", "fontSize": 11, "align": "left", "baseline": "middle", "color": "#555f66"},
      "encoding": {"text": {"field": "label"}}
    },
    {
      "data": {"values": [{"t": 11.7, "price": 4713.4}, {"t": 23.6, "price": 4712.3}]},
      "mark": {"type": "point", "shape": "M-4,-2.5H4L0,2.5Z", "size": 4, "filled": true, "color": "#8f8f8f", "opacity": 1}
    }
  ]
}
